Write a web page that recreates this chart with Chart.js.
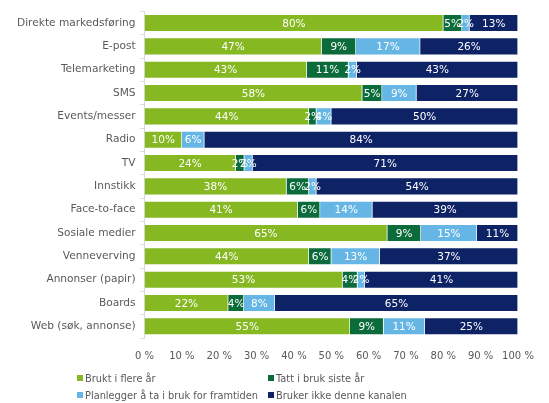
<!DOCTYPE html>
<html>
<head>
<meta charset="utf-8">
<script src="https://cdn.jsdelivr.net/npm/chart.js@4"></script>
<style>
  html, body { margin: 0; padding: 0; background: #fff; }
  #wrap { position: relative; width: 549px; height: 403px; }
  #chart { position: absolute; left: 0; top: 0; }
  .legend { position: absolute; font: 9.8px "DejaVu Sans", Verdana, sans-serif; color: #595959; white-space: nowrap; }
  .legend span.box { display: inline-block; width: 6px; height: 6px; margin-right: 2px; vertical-align: 1px; }
</style>
</head>
<body>
<div id="wrap">
  <canvas id="chart" width="549" height="374"></canvas>
  <div id="legend"></div>
</div>
<script>
// ===== DATA =====
const categories = [
  "Direkte markedsføring", "E-post", "Telemarketing", "SMS", "Events/messer",
  "Radio", "TV", "Innstikk", "Face-to-face", "Sosiale medier",
  "Venneverving", "Annonser (papir)", "Boards", "Web (søk, annonse)"
];
const seriesNames = [
  "Brukt i flere år", "Tatt i bruk siste år",
  "Planlegger å ta i bruk for framtiden", "Bruker ikke denne kanalen"
];
// shares in %, labels show them rounded
const bruktFlereAar   = [80, 47.4, 43.4, 58.3, 44, 10, 24.4, 38, 41, 65, 44, 53, 22.4, 55];
const tattIBruk       = [5, 9.2, 11.2, 5.3, 2, 0, 2.3, 6, 6, 9, 6, 4, 4.2, 9];
const planlegger      = [2, 17.2, 2.2, 9.2, 4, 6, 2.2, 2, 14, 15, 13, 2, 8.3, 11];
const brukerIkke      = [13, 26.2, 43.2, 27.2, 50, 84, 71.1, 54, 39, 11, 37, 41, 65.1, 25];
const xTicks = [0, 10, 20, 30, 40, 50, 60, 70, 80, 90, 100];

const colors = ["#86b822", "#0b6b3a", "#65b6e4", "#0e2266"];
const FONT = "DejaVu Sans";

// ===== LABEL PLUGIN =====
const barLabels = {
  id: "barLabels",
  afterDatasetsDraw(chart) {
    const c = chart.ctx;
    c.save();
    c.font = "10.5px '" + FONT + "'";
    c.fillStyle = "#ffffff";
    c.textAlign = "center";
    c.textBaseline = "middle";
    chart.data.datasets.forEach((ds, i) => {
      chart.getDatasetMeta(i).data.forEach((bar, j) => {
        const v = ds.data[j];
        if (!v) return;
        const x = (bar.x + bar.base) / 2;
        c.fillText(Math.round(v) + "%", x, bar.y + 1);
      });
    });
    c.restore();
  }
};

const datasets = [bruktFlereAar, tattIBruk, planlegger, brukerIkke].map((d, i) => ({
  label: seriesNames[i],
  data: d,
  backgroundColor: colors[i],
  borderColor: "rgba(255,255,255,0.35)",
  borderWidth: 0.6,
  categoryPercentage: 0.74,
  barPercentage: 1
}));

new Chart(document.getElementById("chart").getContext("2d"), {
  type: "bar",
  data: { labels: categories, datasets },
  options: {
    indexAxis: "y",
    responsive: false,
    animation: false,
    layout: { padding: { top: 3, right: 31, left: 12, bottom: 0 } },
    plugins: { legend: { display: false }, tooltip: { enabled: false } },
    scales: {
      x: {
        stacked: true,
        min: 0,
        max: 100,
        afterBuildTicks(axis) { axis.ticks = xTicks.map(v => ({ value: v })); },
        grid: { display: false, drawTicks: false },
        border: { display: false },
        ticks: {
          color: "#595959",
          font: { family: FONT, size: 10 },
          padding: 12,
          maxRotation: 0,
          minRotation: 0,
          autoSkip: false,
          callback: v => v + " %"
        }
      },
      y: {
        stacked: true,
        grid: { drawOnChartArea: false, color: "#d9d9d9", tickLength: 4, offset: true },
        border: { color: "#d9d9d9" },
        ticks: {
          color: "#595959",
          font: { family: FONT, size: 10.6 },
          padding: 5
        }
      }
    }
  },
  plugins: [barLabels]
});

// ===== LEGEND =====
const legendPos = [[77, 373], [268, 373], [77, 390], [268, 390]];
const legendEl = document.getElementById("legend");
seriesNames.forEach((name, i) => {
  const div = document.createElement("div");
  div.className = "legend";
  div.style.left = legendPos[i][0] + "px";
  div.style.top = legendPos[i][1] + "px";
  div.innerHTML = '<span class="box" style="background:' + colors[i] + '"></span>' + name;
  legendEl.appendChild(div);
});
</script>
</body>
</html>
